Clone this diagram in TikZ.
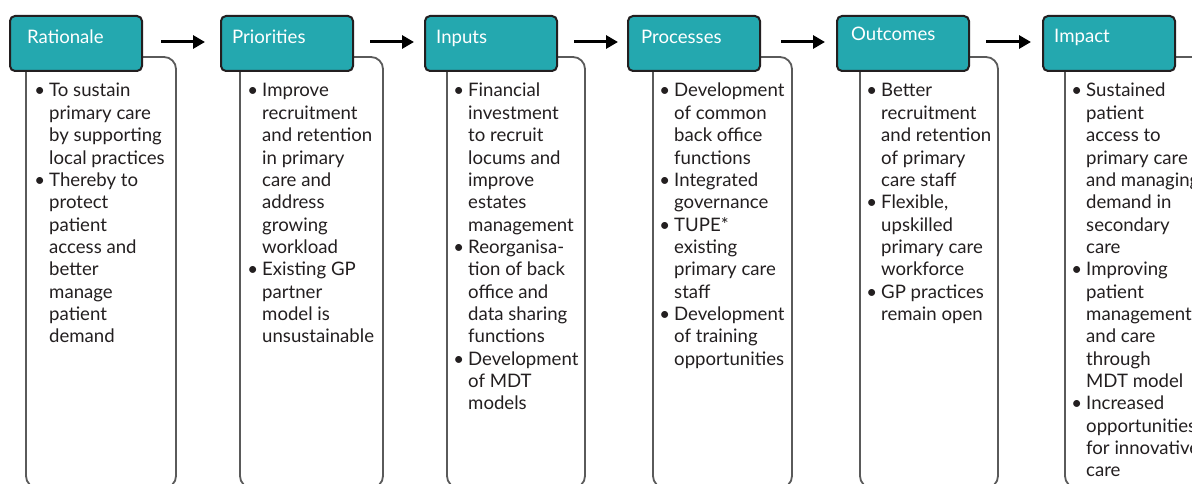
\documentclass[tikz,border=0pt]{standalone}
\usepackage{fontspec}
\setmainfont{Lato}
\usetikzlibrary{arrows.meta}
\definecolor{tealfill}{HTML}{24A8AF}
\definecolor{hdrline}{HTML}{231F20}
\definecolor{bodyline}{HTML}{5A5A5A}
\definecolor{txtcol}{HTML}{231F20}
\newcommand{\bul}{\makebox[0pt][r]{\textbullet\hspace{4pt}}}
\newcommand{\bodylines}[1]{\parbox[t]{220pt}{\fontsize{18.6}{22.35}\selectfont\raggedright #1}}
\begin{document}
\begin{tikzpicture}[x=1pt,y=-1pt,
  hdrbox/.style={draw=hdrline, line width=2pt, fill=tealfill, rounded corners=5pt,
    minimum width=132pt, minimum height=55pt, anchor=north west, inner sep=0pt, outer sep=0pt},
  bodybox/.style={draw=bodyline, line width=1.8pt, fill=white, rounded corners=12pt,
    anchor=north west, inner sep=0pt, outer sep=0pt, minimum height=431pt},
  hdrtext/.style={anchor=base west, inner sep=0pt, text=white, font=\fontsize{18.6}{22}\selectfont},
  bodytext/.style={anchor=base west, inner sep=0pt, text=txtcol},
  arr/.style={line width=3pt, draw=black, -{Triangle[length=12pt,width=13pt]}}
]
\path[use as bounding box, clip] (0,0) rectangle (1192,484);
\fill[white] (0,0) rectangle (1192,484);

% body boxes
\node[bodybox, minimum width=150pt] (b1) at (26,57) {};
\node[bodybox, minimum width=143pt] (b2) at (240,57) {};
\node[bodybox, minimum width=138pt] (b3) at (447,57) {};
\node[bodybox, minimum width=139pt] (b4) at (653,57) {};
\node[bodybox, minimum width=138pt] (b5) at (860,57) {};
\node[bodybox, minimum width=150pt] (b6) at (1065,57) {};

% header boxes
\node[hdrbox] (h1) at (10,16) {};
\node[hdrbox] (h2) at (221,16) {};
\node[hdrbox] (h3) at (425,16) {};
\node[hdrbox] (h4) at (628,16) {};
\node[hdrbox] (h5) at (837,16) {};
\node[hdrbox] (h6) at (1043,16) {};

% header texts
\node[hdrtext] (ht1) at (27,43.5) {Rationale};
\node[hdrtext] (ht2) at (232,43.5) {Priorities};
\node[hdrtext] (ht3) at (436,43.5) {Inputs};
\node[hdrtext] (ht4) at (641,43.5) {Processes};
\node[hdrtext] (ht5) at (851,40.5) {Outcomes};
\node[hdrtext] (ht6) at (1054,42.5) {Impact};

% arrows
\draw[arr] ([xshift=19pt,yshift=1.5pt]h1.east) -- ([xshift=-16pt,yshift=1.5pt]h2.west);
\draw[arr] ([xshift=17pt,yshift=1.5pt]h2.east) -- ([xshift=-11pt,yshift=1.5pt]h3.west);
\draw[arr] ([xshift=17pt,yshift=1.5pt]h3.east) -- ([xshift=-10pt,yshift=1.5pt]h4.west);
\draw[arr] ([xshift=21pt,yshift=1.5pt]h4.east) -- ([xshift=-12pt,yshift=1.5pt]h5.west);
\draw[arr] ([xshift=17pt,yshift=1.5pt]h5.east) -- ([xshift=-12pt,yshift=1.5pt]h6.west);

% body texts
\node[bodytext] (t1) at (49,97) {\bodylines{\bul To sustain\\primary care\\by supporting\\local practices\\
\bul Thereby to\\protect\\patient\\access and\\better\\manage\\patient\\demand}};
\node[bodytext] (t2) at (262,97) {\bodylines{\bul Improve\\recruitment\\and retention\\in primary\\care and\\address\\growing\\workload\\
\bul Existing GP\\partner\\model is\\unsustainable}};
\node[bodytext] (t3) at (468,97) {\bodylines{\bul Financial\\investment\\to recruit\\locums and\\improve\\estates\\management\\
\bul Reorganisa-\\tion of back\\office and\\data sharing\\functions\\
\bul Development\\of MDT\\models}};
\node[bodytext] (t4) at (674,97) {\bodylines{\bul Development\\of common\\back office\\functions\\
\bul Integrated\\governance\\
\bul TUPE*\\existing\\primary care\\staff\\
\bul Development\\of training\\opportunities}};
\node[bodytext] (t5) at (881,97) {\bodylines{\bul Better\\recruitment\\and retention\\of primary\\care staff\\
\bul Flexible,\\upskilled\\primary care\\workforce\\
\bul GP practices\\remain open}};
\node[bodytext] (t6) at (1086,97) {\bodylines{\bul Sustained\\patient\\access to\\primary care\\and managing\\demand in\\secondary\\care\\
\bul Improving\\patient\\management\\and care\\through\\MDT model\\
\bul Increased\\opportunities\\for innovative\\care}};
\end{tikzpicture}
\end{document}
